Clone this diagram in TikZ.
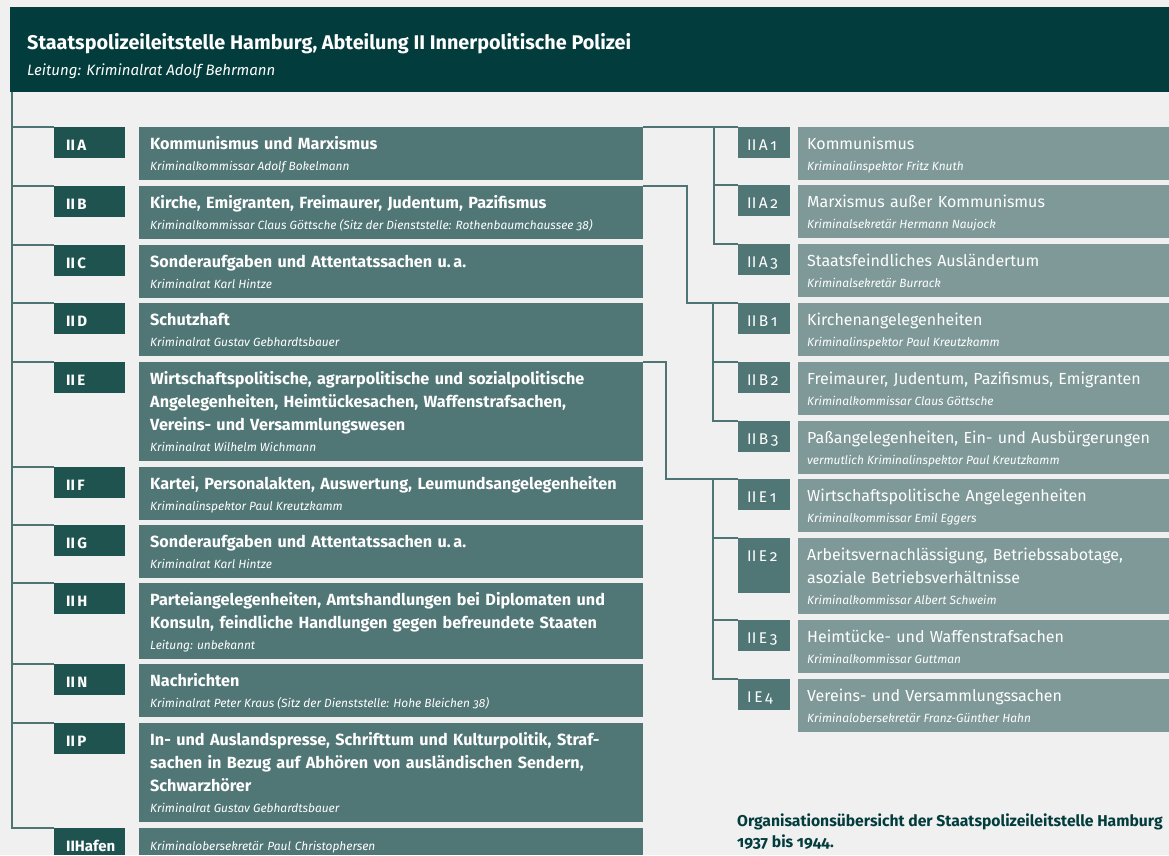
\documentclass[tikz,border=0pt]{standalone}
\usepackage{fontspec}
\setmainfont{Fira Sans}[Numbers=OldStyle]

\definecolor{hintergrund}{HTML}{F0F0F0}
\definecolor{kopfgruen}{HTML}{033C3C}
\definecolor{tagdunkel}{HTML}{1F5350}
\definecolor{boxmittel}{HTML}{517676}
\definecolor{boxhell}{HTML}{7F9999}
\definecolor{linienfarbe}{HTML}{4E7474}

% fonts for the chart
\newcommand{\kopftitel}{\fontsize{19.8}{23}\selectfont\bfseries}
\newcommand{\kopfleitung}{\fontsize{15}{23}\selectfont\itshape}
\newcommand{\ltagfont}{\fontsize{15}{23}\selectfont\bfseries}
\newcommand{\ltitelfont}{\fontsize{16.2}{23}\selectfont\bfseries}
\newcommand{\rtagfont}{\fontsize{15.5}{23}\selectfont}
\newcommand{\rtitelfont}{\fontsize{16}{23}\selectfont}
\newcommand{\unterfont}{\fontsize{11.9}{14}\selectfont\mdseries\itshape\spaceskip=0pt\xspaceskip=0pt\relax}

\begin{document}
\begin{tikzpicture}[x=1pt, y=-1pt,
    linie/.style={draw=linienfarbe, line width=2pt},
    ltag/.style={fill=tagdunkel, text=white, font=\ltagfont, anchor=north west,
      inner xsep=12pt, inner ysep=0pt, text width=47pt, align=left,
      minimum height=31pt, text height=15pt, text depth=0pt},
    lbox/.style={fill=boxmittel, text=white, font=\ltitelfont, anchor=north west,
      inner xsep=11pt, inner ysep=5.7pt, text width=482pt, align=left},
    rtag/.style={fill=boxmittel, text=white, font=\rtagfont, anchor=north west,
      inner xsep=9pt, inner ysep=0pt, text width=34pt, align=left,
      minimum height=31pt, text height=15pt, text depth=0pt},
    rbox/.style={fill=boxhell, text=white, font=\rtitelfont, anchor=north west,
      inner xsep=9pt, inner ysep=5.7pt, text width=353pt, align=left}]

    % background and heading bar
    \useasboundingbox (0,0) rectangle (1169,855);
    \fill[hintergrund] (0,0) rectangle (1169,855);
    \node[fill=kopfgruen, anchor=north west, inner sep=0pt,
      minimum width=1159pt, minimum height=85pt] (kopf) at (10,7) {};
    \node[anchor=base west, inner sep=0pt, text=white, font=\kopftitel] (titel) at (27,49)
      {Staatspolizeileitstelle Hamburg, Abteilung II Innerpolitische Polizei};
    \node[anchor=base west, inner sep=0pt, text=white, font=\kopfleitung] (leitung) at (27,75)
      {Leitung: Kriminalrat Adolf Behrmann};

    % left column: departments
    \node[ltag] (tA) at (54,127) {II\,A};
    \node[lbox] (bA) at (139,127) {\strut Kommunismus und Marxismus\\[-2pt]{\unterfont\strut Kriminalkommissar Adolf Bokelmann}};
    \node[ltag] (tB) at (54,186) {II\,B};
    \node[lbox] (bB) at (139,186) {\strut Kirche, Emigranten, Freimaurer, Judentum, Pazifismus\\[-2pt]{\unterfont\strut Kriminalkommissar Claus Göttsche (Sitz der Dienststelle: Rothenbaumchaussee 38)}};
    \node[ltag] (tC) at (54,245) {II\,C};
    \node[lbox] (bC) at (139,245) {\strut Sonderaufgaben und Attentatssachen u.\,a.\\[-2pt]{\unterfont\strut Kriminalrat Karl Hintze}};
    \node[ltag] (tD) at (54,303) {II\,D};
    \node[lbox] (bD) at (139,303) {\strut Schutzhaft\\[-2pt]{\unterfont\strut Kriminalrat Gustav Gebhardtsbauer}};
    \node[ltag] (tE) at (54,362) {II\,E};
    \node[lbox] (bE) at (139,362) {\strut Wirtschaftspolitische, agrarpolitische und sozialpolitische\\Angelegenheiten, Heimtückesachen, Waffenstrafsachen,\\Vereins- und Versammlungswesen\\[-2pt]{\unterfont\strut Kriminalrat Wilhelm Wichmann}};
    \node[ltag] (tF) at (54,467) {II\,F};
    \node[lbox] (bF) at (139,467) {\strut Kartei, Personalakten, Auswertung, Leumundsangelegenheiten\\[-2pt]{\unterfont\strut Kriminalinspektor Paul Kreutzkamm}};
    \node[ltag] (tG) at (54,525) {II\,G};
    \node[lbox] (bG) at (139,525) {\strut Sonderaufgaben und Attentatssachen u.\,a.\\[-2pt]{\unterfont\strut Kriminalrat Karl Hintze}};
    \node[ltag] (tH) at (54,583) {II\,H};
    \node[lbox] (bH) at (139,583) {\strut Parteiangelegenheiten, Amtshandlungen bei Diplomaten und\\Konsuln, feindliche Handlungen gegen befreundete Staaten\\[-2pt]{\unterfont\strut Leitung: unbekannt}};
    \node[ltag] (tN) at (54,664) {II\,N};
    \node[lbox] (bN) at (139,664) {\strut Nachrichten\\[-2pt]{\unterfont\strut Kriminalrat Peter Kraus (Sitz der Dienststelle: Hohe Bleichen 38)}};
    \node[ltag] (tP) at (54,723) {II\,P};
    \node[lbox] (bP) at (139,723) {\strut In- und Auslandspresse, Schrifttum und Kulturpolitik, Straf-\\sachen in Bezug auf Abhören von ausländischen Sendern,\\Schwarzhörer\\[-2pt]{\unterfont\strut Kriminalrat Gustav Gebhardtsbauer}};
    \node[ltag, minimum height=27pt, text height=19pt] (tHafen) at (54,828) {IIHafen};
    \node[lbox, font=\unterfont, inner ysep=0pt, minimum height=27pt, text height=17pt, text depth=0pt] (bHafen) at (139,828) {Kriminalobersekretär Paul Christophersen};

    % right column: sub-departments
    \node[rtag] (rtA1) at (738,127) {II\,A\,1};
    \node[rbox] (rbA1) at (798,127) {\strut Kommunismus\\[-2pt]{\unterfont\strut Kriminalinspektor Fritz Knuth}};
    \node[rtag] (rtA2) at (738,185) {II\,A\,2};
    \node[rbox] (rbA2) at (798,185) {\strut Marxismus außer Kommunismus\\[-2pt]{\unterfont\strut Kriminalsekretär Hermann Naujock}};
    \node[rtag] (rtA3) at (738,244) {II\,A\,3};
    \node[rbox] (rbA3) at (798,244) {\strut Staatsfeindliches Ausländertum\\[-2pt]{\unterfont\strut Kriminalsekretär Burrack}};
    \node[rtag] (rtB1) at (738,303) {II\,B\,1};
    \node[rbox] (rbB1) at (798,303) {\strut Kirchenangelegenheiten\\[-2pt]{\unterfont\strut Kriminalinspektor Paul Kreutzkamm}};
    \node[rtag] (rtB2) at (738,362) {II\,B\,2};
    \node[rbox] (rbB2) at (798,362) {\strut Freimaurer, Judentum, Pazifismus, Emigranten\\[-2pt]{\unterfont\strut Kriminalkommissar Claus Göttsche}};
    \node[rtag] (rtB3) at (738,421) {II\,B\,3};
    \node[rbox] (rbB3) at (798,421) {\strut Paßangelegenheiten, Ein- und Ausbürgerungen\\[-2pt]{\unterfont\strut vermutlich Kriminalinspektor Paul Kreutzkamm}};
    \node[rtag] (rtE1) at (738,479) {II\,E\,1};
    \node[rbox] (rbE1) at (798,479) {\strut Wirtschaftspolitische Angelegenheiten\\[-2pt]{\unterfont\strut Kriminalkommissar Emil Eggers}};
    \node[rtag, minimum height=55pt, text depth=24pt] (rtE2) at (738,538) {II\,E\,2};
    \node[rbox] (rbE2) at (798,538) {\strut Arbeitsvernachlässigung, Betriebssabotage,\\asoziale Betriebsverhältnisse\\[-2pt]{\unterfont\strut Kriminalkommissar Albert Schweim}};
    \node[rtag] (rtE3) at (738,620) {II\,E\,3};
    \node[rbox] (rbE3) at (798,620) {\strut Heimtücke- und Waffenstrafsachen\\[-2pt]{\unterfont\strut Kriminalkommissar Guttman}};
    \node[rtag] (rtE4) at (738,679) {I\,E\,4};
    \node[rbox] (rbE4) at (798,679) {\strut Vereins- und Versammlungssachen\\[-2pt]{\unterfont\strut Kriminalobersekretär Franz-Günther Hahn}};

    % caption
    \node[anchor=north west, inner sep=0pt, align=left, text=kopfgruen,
      font=\fontsize{15.7}{21}\selectfont\bfseries] (bildtext) at (737,811.3)
      {\strut Organisationsübersicht der Staatspolizeileitstelle Hamburg\\1937 bis 1944.};

    % main line down the left side
    \coordinate (stamm) at (12,92);
    \draw[linie] (stamm) |- (tHafen.north west);
    \foreach \t in {tA,tB,tC,tD,tE,tF,tG,tH,tN,tP}
      \draw[linie] (stamm |- \t.north) -- (\t.north west);

    % branches to the sub-departments
    \coordinate (gabelA) at (714,0);
    \coordinate (knickB) at (687,0);
    \coordinate (gabelB) at (713,0);
    \coordinate (knickE) at (666,0);
    \coordinate (gabelE) at (713,0);
    \draw[linie] (bA.north east) -- (rtA1.north west);
    \draw[linie] (gabelA |- rtA1.north) |- (rtA3.north west);
    \draw[linie] (gabelA |- rtA2.north) -- (rtA2.north west);
    \draw[linie] (bB.north east) -- (knickB |- bB.north) |- (rtB1.north west);
    \draw[linie] (gabelB |- rtB1.north) |- (rtB3.north west);
    \draw[linie] (gabelB |- rtB2.north) -- (rtB2.north west);
    \draw[linie] (bE.north east) -- (knickE |- bE.north) |- (rtE1.north west);
    \draw[linie] (gabelE |- rtE1.north) |- (rtE4.north west);
    \foreach \r in {rtE2,rtE3}
      \draw[linie] (gabelE |- \r.north) -- (\r.north west);
\end{tikzpicture}
\end{document}
